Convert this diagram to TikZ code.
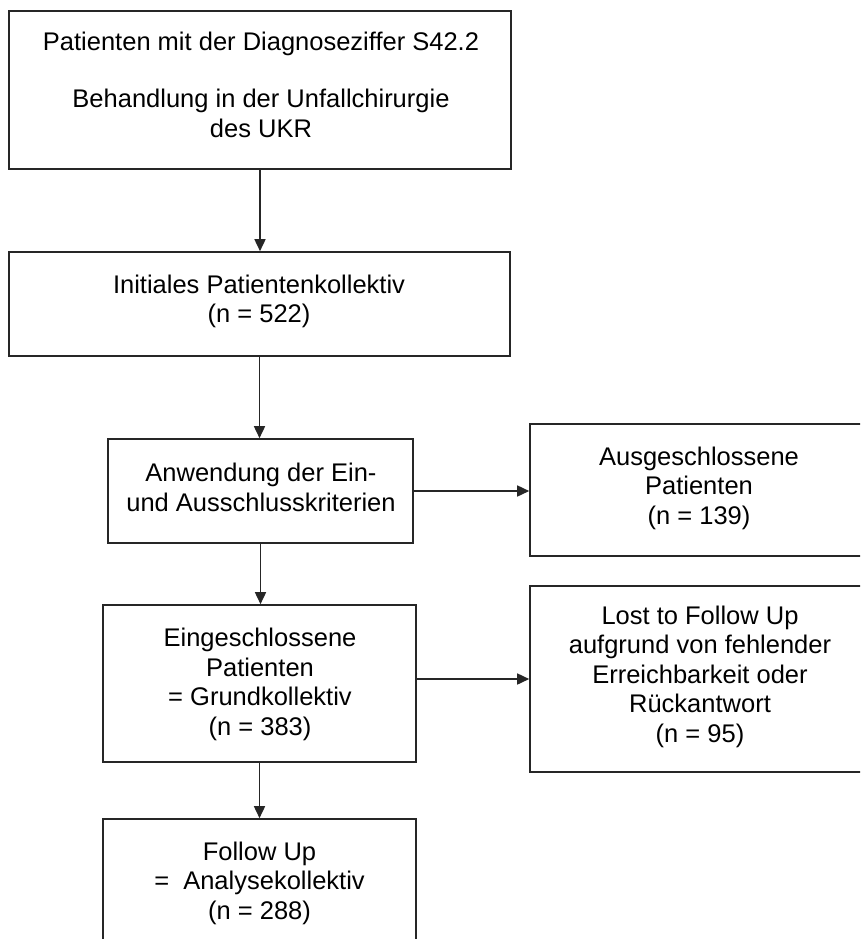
\documentclass[tikz,border=0pt]{standalone}
\usepackage{fontspec}
\setmainfont{Liberation Sans}
\usetikzlibrary{arrows.meta}
\begin{document}
\begin{tikzpicture}[x=1pt,y=-1pt,
  box/.style={draw=black!85,line width=1.6pt,inner sep=0pt,fill=none},
  txt/.style={anchor=north,inner sep=0pt,align=center,text=black,
    font=\fontsize{25.5}{29.5}\selectfont},
  arr/.style={draw=black!85,line width=1.6pt,-{Triangle[length=12pt,width=11pt]}}]
\useasboundingbox (0,0) rectangle (860,939);
\clip (0,0) rectangle (860,939);
\fill[white] (0,0) rectangle (860,939);
% boxes
\node[box,minimum width=502pt,minimum height=158pt] (b1) at (260,90) {};
\node[box,minimum width=501pt,minimum height=104pt] (b2) at (259.5,304) {};
\node[box,minimum width=305pt,minimum height=104pt] (b3) at (260.5,491) {};
\node[box,minimum width=313pt,minimum height=157pt] (b4) at (259.5,683.5) {};
\node[box,minimum width=313pt,minimum height=161pt] (b5) at (259.5,899.5) {};
\node[box,minimum width=350pt,minimum height=132pt] (r1) at (705,490) {};
\node[box,minimum width=350pt,minimum height=186pt] (r2) at (705,679) {};
% texts
\node[txt] (t1) at (261,30) {\strut Patienten mit der Diagnoseziffer S42.2\\[27.5pt]\strut Behandlung in der Unfallchirurgie\\\strut des UKR};
\node[txt] (t2) at (259,272.4) {\strut Initiales Patientenkollektiv\\\strut (n = 522)};
\node[txt] (t3) at (261,461) {\strut Anwendung der Ein-\\\strut und Ausschlusskriterien};
\node[txt] (t4) at (699,444.4) {\strut Ausgeschlossene\\\strut Patienten\\\strut (n = 139)};
\node[txt] (t5) at (260,626) {\strut Eingeschlossene\\\strut Patienten\\\strut = Grundkollektiv\\\strut (n = 383)};
\node[txt] (t6) at (700,603.4) {\strut Lost to Follow Up\\\strut aufgrund von fehlender\\\strut Erreichbarkeit oder\\\strut Rückantwort\\\strut (n = 95)};
\node[txt] (t7) at (259.5,839.4) {\strut Follow Up\\\strut = \ Analysekollektiv\\\strut (n = 288)};
% connectors
\draw[arr] (b1.south) -- (b1.south |- b2.north);
\draw[arr] (b2.south) -- (b2.south |- b3.north);
\draw[arr] (b3.east) -- (b3.east -| r1.west);
\draw[arr] (b3.south) -- (b3.south |- b4.north);
\draw[arr] (b4.east |- r2.west) -- (r2.west);
\draw[arr] (b4.south) -- (b4.south |- b5.north);
\end{tikzpicture}
\end{document}
